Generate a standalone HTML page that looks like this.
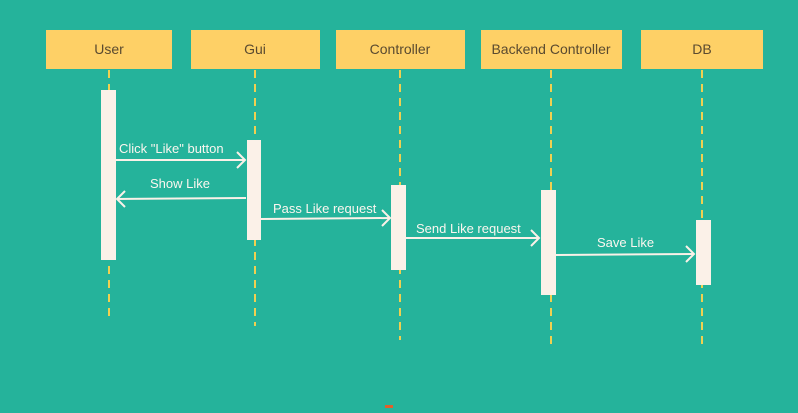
<!DOCTYPE html>
<html><head><style>
body{margin:0;width:798px;height:408px;background:#25b39b;overflow:hidden;font-family:"Liberation Sans",sans-serif}
</style></head><body>
<svg width="798" height="408" xmlns="http://www.w3.org/2000/svg" font-family="Liberation Sans, sans-serif">
<rect width="798" height="408" fill="#25b39b"/>
<g fill="#fed066">
<rect x="46" y="30" width="126" height="39"/>
<rect x="191" y="30" width="129" height="39"/>
<rect x="336" y="30" width="129" height="39"/>
<rect x="481" y="30" width="141" height="39"/>
<rect x="641" y="30" width="122" height="39"/>
</g>
<g fill="#5a4a30" font-size="14" text-anchor="middle">
<text x="109" y="54">User</text>
<text x="255" y="54">Gui</text>
<text x="400" y="54">Controller</text>
<text x="551" y="54">Backend Controller</text>
<text x="702" y="54">DB</text>
</g>
<g stroke="#f0d050" stroke-width="2" stroke-dasharray="8,6">
<line x1="109" y1="70" x2="109" y2="317"/>
<line x1="255" y1="70" x2="255" y2="326"/>
<line x1="400" y1="70" x2="400" y2="340"/>
<line x1="551" y1="70" x2="551" y2="346"/>
<line x1="702" y1="70" x2="702" y2="350"/>
</g>
<g fill="#fbf1e8">
<rect x="101" y="90" width="15" height="170"/>
<rect x="247" y="140" width="14" height="100"/>
<rect x="391" y="185" width="15" height="85"/>
<rect x="541" y="190" width="15" height="105"/>
<rect x="696" y="220" width="15" height="65"/>
</g>
<g stroke="#fbf1e8" stroke-width="2" fill="none">
<line x1="116" y1="160" x2="245" y2="160"/><polyline points="237,152 245,160 237,168"/>
<line x1="246" y1="198" x2="117" y2="199"/><polyline points="125,191 117,199 125,207"/>
<line x1="261" y1="219" x2="390" y2="218"/><polyline points="382,210 390,218 382,226"/>
<line x1="406" y1="238" x2="539" y2="238"/><polyline points="531,230 539,238 531,246"/>
<line x1="556" y1="255" x2="694" y2="254"/><polyline points="686,246 694,254 686,262"/>
</g>
<g fill="#fbf6ef" font-size="13">
<text x="119" y="153">Click "Like" button</text>
<text x="150" y="188">Show Like</text>
<text x="273" y="213">Pass Like request</text>
<text x="416" y="233">Send Like request</text>
<text x="597" y="247">Save Like</text>
</g>
<rect x="385" y="405" width="8" height="3" fill="#e0602a"/>
</svg>
</body></html>
